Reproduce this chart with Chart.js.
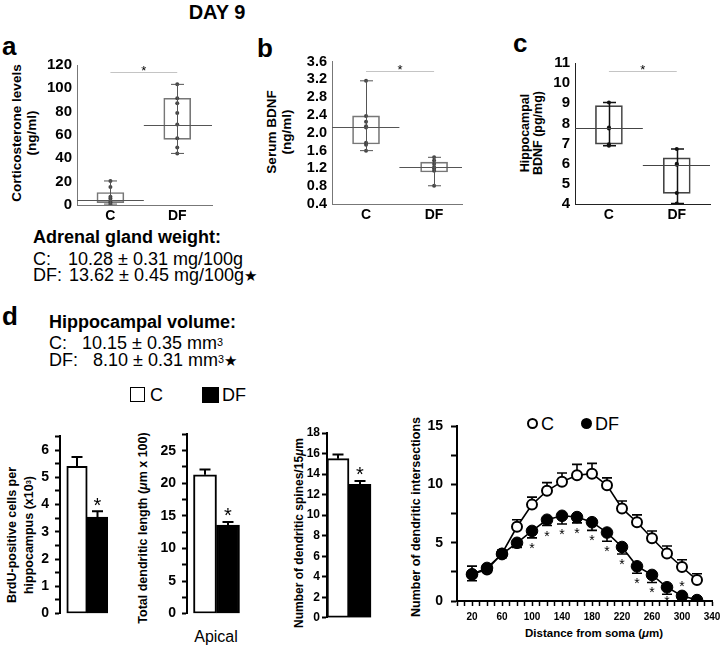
<!DOCTYPE html>
<html><head><meta charset="utf-8">
<script src="https://cdn.jsdelivr.net/npm/chart.js@4.4.1/dist/chart.umd.min.js"></script>
<style>
html,body{margin:0;padding:0;background:#fff;}
body{width:720px;height:646px;position:relative;overflow:hidden;font-family:"Liberation Sans",Arial,Helvetica,sans-serif;color:#000;}
.t{position:absolute;white-space:nowrap;}
.rot{position:absolute;white-space:nowrap;transform:translate(-50%,-50%) rotate(-90deg);text-align:center;font-weight:bold;}
canvas{position:absolute;}
.lbl{font-weight:bold;font-size:26px;line-height:26px;}
.txt{font-size:18px;line-height:18px;}
sup{font-size:60%;vertical-align:top;position:relative;top:-1px;}
</style></head><body>

<div class="t" style="left:167px;top:2px;width:100px;text-align:center;font-weight:bold;font-size:20px;line-height:20px;">DAY 9</div>
<div class="t lbl" style="left:2px;top:33px;">a</div>
<div class="t lbl" style="left:257px;top:35px;">b</div>
<div class="t lbl" style="left:513px;top:30px;">c</div>
<div class="t lbl" style="left:2px;top:303px;">d</div>

<div class="rot" style="left:24px;top:133px;font-size:13.5px;line-height:15px;">Corticosterone levels<br>(ng/ml)</div>
<div class="rot" style="left:279px;top:132px;font-size:13.5px;line-height:15px;">Serum BDNF<br>(ng/ml)</div>
<div class="rot" style="left:532px;top:133px;font-size:12.5px;line-height:13px;">Hippocampal<br>BDNF (pg/mg)</div>

<div class="t txt" style="left:33px;top:228px;font-weight:bold;">Adrenal gland weight:</div>
<div class="t txt" style="left:33px;top:250px;">C:</div>
<div class="t txt" style="left:68px;top:250px;">10.28 ± 0.31 mg/100g</div>
<div class="t txt" style="left:33px;top:266px;">DF:</div>
<div class="t txt" style="left:69px;top:266px;">13.62 ± 0.45 mg/100g<span style="font-size:15px;">★</span></div>

<div class="t txt" style="left:49px;top:313px;font-weight:bold;">Hippocampal volume:</div>
<div class="t txt" style="left:49px;top:334px;">C:</div>
<div class="t txt" style="left:82px;top:334px;">10.15 ± 0.35 mm<sup>3</sup></div>
<div class="t txt" style="left:49px;top:351px;">DF:</div>
<div class="t txt" style="left:93px;top:351px;">8.10 ± 0.31 mm<sup>3</sup><span style="font-size:15px;">★</span></div>

<div class="t" style="left:130px;top:387px;width:13px;height:13px;border:1.5px solid #000;"></div>
<div class="t" style="left:150px;top:386px;font-size:18px;line-height:18px;">C</div>
<div class="t" style="left:202px;top:387px;width:17px;height:16px;background:#000;"></div>
<div class="t" style="left:222px;top:386px;font-size:18px;line-height:18px;">DF</div>

<div class="rot" style="left:21px;top:535px;font-size:12.5px;line-height:17px;">BrdU-positive cells per<br>hippocampus (x10<sup>3</sup>)</div>
<div class="rot" style="left:143px;top:528px;font-size:12.5px;line-height:15px;">Total dendritic length (<i>μ</i>m x 100)</div>
<div class="rot" style="left:299px;top:533px;font-size:12px;line-height:14px;">Number of dendritic spines/15<i>μ</i>m</div>
<div class="rot" style="left:416px;top:517px;font-size:12.5px;line-height:15px;">Number of dendritic intersections</div>
<div class="t" style="left:194px;top:629px;width:44px;text-align:center;font-size:16px;line-height:16px;">Apical</div>
<div class="t" style="left:494px;top:627px;width:200px;text-align:center;font-size:11.5px;line-height:12px;font-weight:bold;">Distance from soma (<i>μ</i>m)</div>

<div class="t" style="left:527px;top:418px;width:7px;height:7px;border:2px solid #000;border-radius:50%;"></div>
<div class="t" style="left:541px;top:415px;font-size:18px;line-height:18px;">C</div>
<div class="t" style="left:581px;top:418px;width:11px;height:11px;background:#000;border-radius:50%;"></div>
<div class="t" style="left:595px;top:415px;font-size:18px;line-height:18px;">DF</div>

<canvas id="cA"></canvas>
<canvas id="cB"></canvas>
<canvas id="cC"></canvas>
<canvas id="cBrdu"></canvas>
<canvas id="cLen"></canvas>
<canvas id="cSpine"></canvas>
<canvas id="cSholl"></canvas>

<script>
// ---------------- DATA ----------------
const groups = ['C', 'DF'];

// a: corticosterone (ng/ml) box plots
const cortMin = [0.8, 44.2];
const cortQ1 = [2.0, 56.3];
const cortMedian = [4.2, 69.0];
const cortQ3 = [10.7, 91.5];
const cortMax = [20.6, 103.4];
const cortPoints = [[0.8, 2.3, 3.7, 5.6, 7.0, 15.5, 20.6], [44.2, 49.3, 57.2, 69.0, 78.9, 87.3, 91.5, 103.4]];
const cortTicks = [0, 20, 40, 60, 80, 100, 120];
const cortSig = 114;

// b: serum BDNF (ng/ml)
const serumMin = [1.60, 0.81];
const serumQ1 = [1.75, 1.12];
const serumMedian = [2.14, 1.23];
const serumQ3 = [2.38, 1.34];
const serumMax = [3.17, 1.45];
const serumPoints = [[1.60, 1.73, 1.78, 2.12, 2.15, 2.25, 2.38, 3.17], [0.81, 1.15, 1.20, 1.23, 1.30, 1.38, 1.45]];
const serumTicks = [0.4, 0.8, 1.2, 1.6, 2.0, 2.4, 2.8, 3.2, 3.6];
const serumSig = 3.39;

// c: hippocampal BDNF (pg/mg)
const hipMin = [6.89, 4.03];
const hipQ1 = [6.97, 4.53];
const hipMedian = [7.78, 5.96];
const hipQ3 = [8.88, 6.29];
const hipMax = [9.04, 6.73];
const hipPoints = [[6.89, 6.97, 7.75, 7.80, 9.04], [4.03, 4.55, 5.95, 6.00, 6.73]];
const hipTicks = [4, 5, 6, 7, 8, 9, 10, 11];
const hipSig = 10.59;

// d: bar charts
const brduValues = [5.40, 3.54];
const brduErr = [0.34, 0.21];
const brduTicks = [0, 0.5, 1, 1.5, 2, 2.5, 3, 3.5, 4, 4.5, 5, 5.5, 6, 6.5];
const brduLabels = [0, 1, 2, 3, 4, 5, 6];

const lengthValues = [21.3, 13.6];
const lengthErr = [0.8, 0.45];
const lengthTicks = [0, 2.5, 5, 7.5, 10, 12.5, 15, 17.5, 20, 22.5, 25, 27.5];
const lengthLabels = [0, 5, 10, 15, 20, 25];

const spineValues = [15.5, 13.0];
const spineErr = [0.4, 0.32];
const spineTicks = [0, 2, 4, 6, 8, 10, 12, 14, 16, 18];
const spineLabels = [0, 2, 4, 6, 8, 10, 12, 14, 16, 18];

const significant = [false, true];

// Sholl analysis
const distances = [20, 40, 60, 80, 100, 120, 140, 160, 180, 200, 220, 240, 260, 280, 300, 320];
const cMean = [2.30, 2.70, 4.08, 6.38, 8.28, 9.47, 10.25, 10.80, 10.94, 9.94, 7.95, 6.77, 5.39, 4.08, 2.92, 1.80];
const cErr = [0.70, 0.30, 0.30, 0.60, 0.64, 0.70, 0.75, 0.94, 0.88, 0.64, 0.64, 0.63, 0.63, 0.64, 0.62, 0.54];
const dfMean = [2.29, 2.84, 4.03, 5.00, 6.02, 6.98, 7.32, 7.21, 6.77, 5.88, 4.64, 2.98, 2.24, 1.18, 0.44, 0.08];
const dfErr = [0.55, 0.30, 0.30, 0.40, 0.60, 0.50, 0.70, 0.50, 0.70, 0.75, 0.60, 0.60, 0.65, 0.60, 0.20, 0.10];
const dfSig = [false, false, false, false, true, true, true, true, true, true, true, true, true, true, true, false];
const distTickLabels = [20, 60, 100, 140, 180, 220, 260, 300, 340];
const distTicks = [0, 10, 20, 30, 40, 50, 60, 70, 80, 90, 100, 110, 120, 130, 140, 150, 160, 170, 180, 190, 200, 210, 220, 230, 240, 250, 260, 270, 280, 290, 300, 310, 320, 330, 340];
const intersectTicks = [0, 2.5, 5, 7.5, 10, 12.5, 15];
const intersectLabels = [0, 5, 10, 15];

// ---------------- HELPERS ----------------
const FONT = '"Liberation Sans", Arial, Helvetica, sans-serif';
Chart.defaults.font.family = FONT;
Chart.defaults.color = '#000';

function setup(id, area, yw, xh, padT, padR) {
  const c = document.getElementById(id);
  const w = Math.round(area.r - area.l + yw + padR);
  const h = Math.round(area.b - area.t + padT + xh);
  c.width = w; c.height = h;
  c.style.width = w + 'px'; c.style.height = h + 'px';
  c.style.left = (area.l - yw) + 'px';
  c.style.top = (area.t - padT) + 'px';
  return {padding: {left: 0, top: padT, right: padR, bottom: 0}};
}

function drawStar(ctx, x, cy, size) {
  ctx.save();
  ctx.fillStyle = '#000';
  ctx.font = size + 'px ' + FONT;
  ctx.textAlign = 'center';
  ctx.textBaseline = 'alphabetic';
  ctx.fillText('*', x, cy + 0.57 * size);
  ctx.restore();
}

const boxPlugin = {
  id: 'boxExtra',
  afterDatasetsDraw(chart, args, o) {
    const ctx = chart.ctx, xs = chart.scales.x, ys = chart.scales.y;
    ctx.save();
    ctx.strokeStyle = o.whiskColor; ctx.lineWidth = o.whiskWidth;
    o.min.forEach((mn, i) => {
      const x = Math.round(xs.getPixelForValue(i + 1)) + 0.5;
      const y1 = ys.getPixelForValue(mn), y2 = ys.getPixelForValue(o.max[i]);
      ctx.beginPath();
      ctx.moveTo(x, y1); ctx.lineTo(x, y2);
      ctx.moveTo(x - o.cap, y1); ctx.lineTo(x + o.cap, y1);
      ctx.moveTo(x - o.cap, y2); ctx.lineTo(x + o.cap, y2);
      ctx.stroke();
    });
    ctx.strokeStyle = o.medColor; ctx.lineWidth = 1;
    o.median.forEach((m, i) => {
      const y = Math.round(ys.getPixelForValue(m)) + 0.5;
      ctx.beginPath();
      ctx.moveTo(xs.getPixelForValue(o.medSpan[i][0]), y);
      ctx.lineTo(xs.getPixelForValue(o.medSpan[i][1]), y);
      ctx.stroke();
    });
    const sy = Math.round(ys.getPixelForValue(o.sig)) + 0.5;
    ctx.strokeStyle = '#c4c4c4'; ctx.lineWidth = 1;
    ctx.beginPath();
    ctx.moveTo(xs.getPixelForValue(1), sy); ctx.lineTo(xs.getPixelForValue(2), sy);
    ctx.stroke();
    ctx.restore();
    drawStar(ctx, xs.getPixelForValue(1.5), sy - 5, 13);
  }
};

function boxPlot(id, area, d) {
  const yw = 50, xh = 24;
  const layout = setup(id, area, yw, xh, 12, 4);
  const boxes = groups.map((g, i) => ({x: i + 1, y: [d.q1[i], d.q3[i]]}));
  const pts = [];
  d.points.forEach((arr, i) => arr.forEach(v => pts.push({x: i + 1, y: v})));
  new Chart(document.getElementById(id), {
    type: 'bar',
    data: {datasets: [
      {type: 'scatter', data: pts, pointRadius: 2, pointBackgroundColor: d.ptColor, pointBorderColor: d.ptColor, pointBorderWidth: 0, order: 0},
      {type: 'bar', data: boxes, backgroundColor: 'rgba(255,255,255,0)', borderColor: d.boxColor, borderWidth: 1, borderSkipped: false, barThickness: 27, order: 1}
    ]},
    options: {
      responsive: false, animation: false, devicePixelRatio: 1, layout,
      plugins: {legend: {display: false}, tooltip: {enabled: false},
        boxExtra: {min: d.min, max: d.max, median: d.median, medSpan: d.medSpan, sig: d.sig, cap: 6.5,
          whiskColor: d.whiskColor, whiskWidth: d.whiskWidth, medColor: d.medColor}},
      scales: {
        x: {type: 'linear', min: 0.5, max: d.xmax, offset: false,
          afterFit(s) { s.height = xh; },
          afterBuildTicks(s) { s.ticks = groups.map((g, i) => ({value: i + 1})); },
          ticks: {callback: v => groups[v - 1], font: {size: 14, weight: 'bold'}, color: '#000', padding: 3, maxRotation: 0, autoSkip: false},
          grid: {display: false, drawTicks: false, offset: false}, border: {display: true, color: d.axisColor, width: 1}},
        y: {type: 'linear', min: d.ticks[0], max: d.ticks[d.ticks.length - 1],
          afterFit(s) { s.width = yw; },
          afterBuildTicks(s) { s.ticks = d.ticks.map(v => ({value: v})); },
          ticks: {callback: d.fmt, font: {size: d.tickSize, weight: 'bold'}, color: '#000', padding: 5, autoSkip: false},
          grid: {display: false, drawTicks: false}, border: {display: true, color: d.axisColor, width: 1}}
      }
    },
    plugins: [boxPlugin]
  });
}

const barPlugin = {
  id: 'barExtra',
  afterDatasetsDraw(chart, args, o) {
    const ctx = chart.ctx, xs = chart.scales.x, ys = chart.scales.y;
    ctx.save();
    ctx.strokeStyle = '#000'; ctx.lineWidth = 2;
    o.values.forEach((v, i) => {
      const x = xs.getPixelForValue(i + 1);
      const y0 = ys.getPixelForValue(v), y1 = ys.getPixelForValue(v + o.err[i]);
      ctx.beginPath();
      ctx.moveTo(x, y0); ctx.lineTo(x, y1);
      ctx.moveTo(x - 5.5, y1); ctx.lineTo(x + 5.5, y1);
      ctx.stroke();
      if (o.sig[i]) drawStar(ctx, x, y1 - 11, 20);
    });
    ctx.restore();
  }
};

function barPlot(id, area, d) {
  const yw = 40, xh = 4;
  const layout = setup(id, area, yw, xh, 10, 6);
  new Chart(document.getElementById(id), {
    type: 'bar',
    data: {datasets: [{
      data: groups.map((g, i) => ({x: i + 1, y: d.values[i]})),
      backgroundColor: ['#fff', '#000'], borderColor: '#000', borderWidth: 2, borderSkipped: false,
      barThickness: d.bw
    }]},
    options: {
      responsive: false, animation: false, devicePixelRatio: 1, layout,
      plugins: {legend: {display: false}, tooltip: {enabled: false},
        barExtra: {values: d.values, err: d.err, sig: significant}},
      scales: {
        x: {type: 'linear', min: d.xmin, max: d.xmax, offset: false,
          afterFit(s) { s.height = xh; },
          ticks: {display: false}, grid: {display: false, drawTicks: false, offset: false}, border: {display: false}},
        y: {type: 'linear', min: 0, max: d.ticks[d.ticks.length - 1],
          afterFit(s) { s.width = yw; },
          afterBuildTicks(s) { s.ticks = d.ticks.map(v => ({value: v})); },
          ticks: {callback: v => d.labels.includes(v) ? String(v) : '', font: {size: d.fs, weight: 'bold'}, color: '#000', padding: d.pad, autoSkip: false},
          grid: {display: true, drawOnChartArea: false, drawTicks: true, tickLength: 5, tickColor: '#000', tickWidth: 2},
          border: {display: true, color: '#000', width: 2}}
      }
    },
    plugins: [barPlugin]
  });
}

// ---------------- CHARTS ----------------
boxPlot('cA', {l: 77, r: 212, t: 63, b: 205}, {
  min: cortMin, q1: cortQ1, median: cortMedian, q3: cortQ3, max: cortMax, points: cortPoints,
  ticks: cortTicks, sig: cortSig, fmt: v => String(v), tickSize: 15, xmax: 2.52,
  medSpan: [[0.5, 1.5], [1.5, 2.52]], boxColor: '#777', whiskColor: '#555', whiskWidth: 1,
  medColor: '#555', ptColor: '#444', axisColor: '#777'
});
boxPlot('cB', {l: 332, r: 462, t: 60, b: 204}, {
  min: serumMin, q1: serumQ1, median: serumMedian, q3: serumQ3, max: serumMax, points: serumPoints,
  ticks: serumTicks, sig: serumSig, fmt: v => v.toFixed(1), tickSize: 14.5, xmax: 2.41,
  medSpan: [[0.5, 1.49], [1.49, 2.41]], boxColor: '#777', whiskColor: '#555', whiskWidth: 1,
  medColor: '#555', ptColor: '#444', axisColor: '#777'
});
boxPlot('cC', {l: 575, r: 710, t: 61, b: 204}, {
  min: hipMin, q1: hipQ1, median: hipMedian, q3: hipQ3, max: hipMax, points: hipPoints,
  ticks: hipTicks, sig: hipSig, fmt: v => String(v), tickSize: 15, xmax: 2.49,
  medSpan: [[0.5, 1.5], [1.5, 2.49]], boxColor: '#444', whiskColor: '#111', whiskWidth: 1.5,
  medColor: '#444', ptColor: '#111', axisColor: '#222'
});

barPlot('cBrdu', {l: 60, r: 118, t: 624 - 6.5 * 29.55, b: 624}, {
  values: brduValues, err: brduErr, ticks: brduTicks, labels: brduLabels, bw: 20.5, xmin: 0.1707, xmax: 3.0, fs: 14, pad: 6
});
barPlot('cLen', {l: 187, r: 250, t: 430, b: 624}, {
  values: lengthValues, err: lengthErr, ticks: lengthTicks, labels: lengthLabels, bw: 23, xmin: 0.2174, xmax: 2.9565, fs: 14, pad: 6
});
barPlot('cSpine', {l: 327, r: 385, t: 433.3, b: 623.3}, {
  values: spineValues, err: spineErr, ticks: spineTicks, labels: spineLabels, bw: 22, xmin: 0.5, xmax: 3.136, fs: 12, pad: 2
});

// Sholl line chart
const shollPlugin = {
  id: 'shollExtra',
  beforeDatasetsDraw(chart) {
    const ctx = chart.ctx, xs = chart.scales.x, ys = chart.scales.y;
    ctx.save();
    ctx.strokeStyle = '#000'; ctx.lineWidth = 1.6;
    distances.forEach((d, i) => {
      const x = xs.getPixelForValue(d);
      const yc = ys.getPixelForValue(cMean[i]), yce = ys.getPixelForValue(cMean[i] + cErr[i]);
      ctx.beginPath(); ctx.moveTo(x, yc); ctx.lineTo(x, yce);
      ctx.moveTo(x - 5, yce); ctx.lineTo(x + 5, yce); ctx.stroke();
      const yd = ys.getPixelForValue(dfMean[i]), yde = ys.getPixelForValue(dfMean[i] - dfErr[i]);
      ctx.beginPath(); ctx.moveTo(x, yd); ctx.lineTo(x, yde);
      ctx.moveTo(x - 5, yde); ctx.lineTo(x + 5, yde); ctx.stroke();
    });
    ctx.restore();
  },
  afterDatasetsDraw(chart) {
    const ctx = chart.ctx, xs = chart.scales.x, ys = chart.scales.y;
    distances.forEach((d, i) => {
      if (!dfSig[i]) return;
      const x = xs.getPixelForValue(d);
      if (dfMean[i] < 0.8) {
        drawStar(ctx, x, ys.getPixelForValue(dfMean[i]) - 13, 14);
      } else {
        const cap = ys.getPixelForValue(dfMean[i] - dfErr[i]);
        drawStar(ctx, x, Math.min(cap + 7, chart.chartArea.bottom - 3), 14);
      }
    });
  }
};

(function () {
  const area = {l: 457, r: 712, t: 420, b: 601};
  const yw = 40, xh = 22;
  const layout = setup('cSholl', area, yw, xh, 10, 14);
  new Chart(document.getElementById('cSholl'), {
    type: 'line',
    data: {datasets: [
      {label: 'DF', data: distances.map((d, i) => ({x: d, y: dfMean[i]})), borderColor: '#000', borderWidth: 1.6,
        pointRadius: 5.8, pointBackgroundColor: '#000', pointBorderColor: '#000', pointBorderWidth: 1, order: 0},
      {label: 'C', data: distances.map((d, i) => ({x: d, y: cMean[i]})), borderColor: '#000', borderWidth: 1.6,
        pointRadius: 5, pointBackgroundColor: '#fff', pointBorderColor: '#000', pointBorderWidth: 2, order: 1}
    ]},
    options: {
      responsive: false, animation: false, devicePixelRatio: 1, layout,
      plugins: {legend: {display: false}, tooltip: {enabled: false}},
      scales: {
        x: {type: 'linear', min: 0, max: 340,
          afterFit(s) { s.height = xh; },
          afterBuildTicks(s) { s.ticks = distTicks.map(v => ({value: v})); },
          ticks: {callback: v => distTickLabels.includes(v) ? String(v) : '', font: {size: 10, weight: 'bold'}, color: '#000', padding: 5, maxRotation: 0, autoSkip: false},
          grid: {display: true, drawOnChartArea: false, drawTicks: true, tickLength: 5, tickColor: '#000', tickWidth: 1.5},
          border: {display: true, color: '#000', width: 2}},
        y: {type: 'linear', min: 0, max: 15,
          afterFit(s) { s.width = yw; },
          afterBuildTicks(s) { s.ticks = intersectTicks.map(v => ({value: v})); },
          ticks: {callback: v => intersectLabels.includes(v) ? String(v) : '', font: {size: 14, weight: 'bold'}, color: '#000', padding: 8, autoSkip: false},
          grid: {display: true, drawOnChartArea: false, drawTicks: true, tickLength: 6, tickColor: '#000', tickWidth: 2},
          border: {display: true, color: '#000', width: 2}}
      }
    },
    plugins: [shollPlugin]
  });
})();
</script>
</body></html>
